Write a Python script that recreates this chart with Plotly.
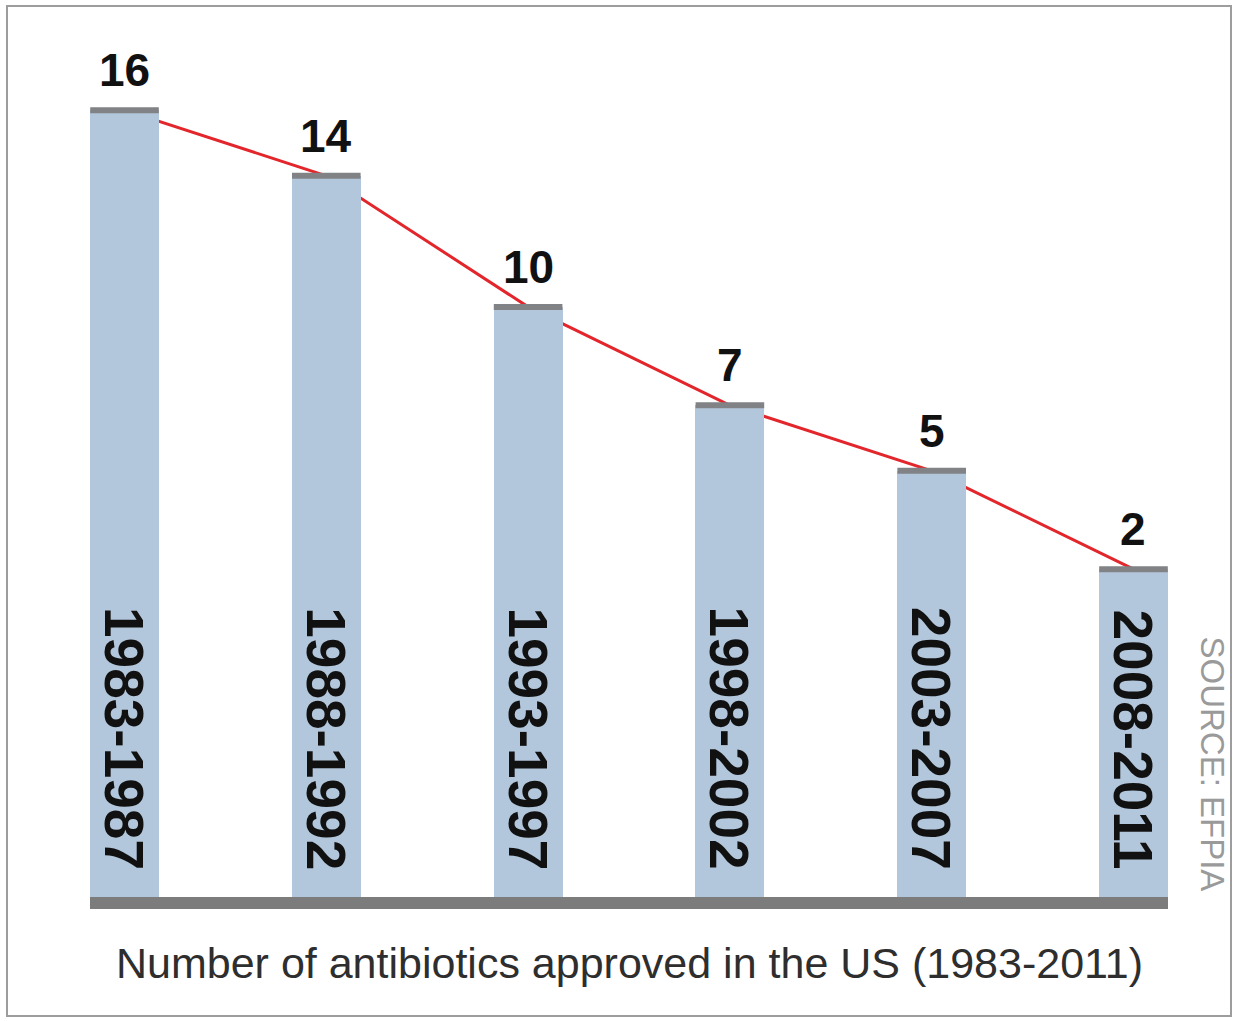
import plotly.graph_objects as go

# ---- data ----
periods = ["1983-1987", "1988-1992", "1993-1997", "1998-2002", "2003-2007", "2008-2011"]
approvals = [16, 14, 10, 7, 5, 2]
title_text = "Number of antibiotics approved in the US (1983-2011)"
source_text = "SOURCE: EFPIA"

# ---- style ----
AXIS_FLOOR = -8          # visual floor of the bars (the graphic is not zero-based)
Y_TOP = 17.5
BAR_W = 0.342
BAR_COLOR = "#b3c7dc"
CAP_COLOR = "#808285"
LINE_COLOR = "#e3262b"
BASE_COLOR = "#7c7c7c"
BOLD_FONT = "Liberation Sans, Arial, sans-serif"

fig = go.Figure()

# red trend line (behind the bars)
fig.add_trace(go.Scatter(
    x=periods, y=approvals, mode="lines",
    line=dict(color=LINE_COLOR, width=3),
    zorder=0, hoverinfo="skip", showlegend=False,
))

# bars
fig.add_trace(go.Bar(
    x=periods, y=[v - AXIS_FLOOR for v in approvals], base=AXIS_FLOOR,
    width=BAR_W, marker=dict(color=BAR_COLOR, line=dict(width=0)),
    zorder=1, showlegend=False,
))

# grey caps at bar tops
fig.add_trace(go.Scatter(
    x=periods, y=approvals, mode="markers",
    marker=dict(symbol="line-ew", size=49, line=dict(color=CAP_COLOR, width=6)),
    zorder=2, hoverinfo="skip", showlegend=False,
))

annotations = []
for p, v in zip(periods, approvals):
    annotations.append(dict(
        x=p, y=v, xref="x", yref="y", text=str(v), showarrow=False,
        yanchor="bottom", xanchor="center", yshift=12,
        font=dict(family=BOLD_FONT, size=46, color="#111111", weight="bold"),
    ))
    annotations.append(dict(
        x=p, y=AXIS_FLOOR, xref="x", yref="y", text=p, showarrow=False,
        textangle=90, yanchor="bottom", xanchor="center", yshift=25,
        font=dict(family=BOLD_FONT, size=55, color="#111111", weight="bold"),
    ))

annotations.append(dict(
    x=0.5, y=0, xref="paper", yref="paper", text=title_text, showarrow=False,
    xanchor="center", yanchor="middle", yshift=-66,
    font=dict(family="Liberation Sans, Arial, sans-serif", size=43, color="#2e2e2e"),
))
annotations.append(dict(
    x=1, y=0, xref="paper", yref="paper", text=source_text, showarrow=False,
    textangle=90, xanchor="center", yanchor="bottom", xshift=44, yshift=4,
    font=dict(family="Liberation Sans, Arial, sans-serif", size=33, color="#9a9a9a"),
))

shapes = [
    # outer frame
    dict(type="rect", xref="paper", yref="paper",
         x0=(7 - 90) / 1078, x1=(1231 - 90) / 1078,
         y0=(897 - 1016) / 836, y1=(897 - 6) / 836,
         line=dict(color="#9d9d9d", width=2), fillcolor="rgba(0,0,0,0)", layer="below"),
    # thick grey baseline under the bars
    dict(type="rect", xref="paper", x0=0, x1=1,
         yref="paper", ysizemode="pixel", yanchor=0, y0=-12, y1=0,
         line=dict(width=0), fillcolor=BASE_COLOR, layer="above"),
]

fig.update_layout(
    width=1237, height=1021,
    margin=dict(l=90, r=69, t=61, b=124),
    paper_bgcolor="white", plot_bgcolor="white",
    bargap=0,
    annotations=annotations,
    shapes=shapes,
)
fig.update_xaxes(
    range=[-BAR_W / 2, len(periods) - 1 + BAR_W / 2],
    showticklabels=False, ticks="", showgrid=False, zeroline=False, showline=False,
)
fig.update_yaxes(
    range=[AXIS_FLOOR, Y_TOP], visible=False, showgrid=False, zeroline=False,
)

fig.write_html("out.html")
